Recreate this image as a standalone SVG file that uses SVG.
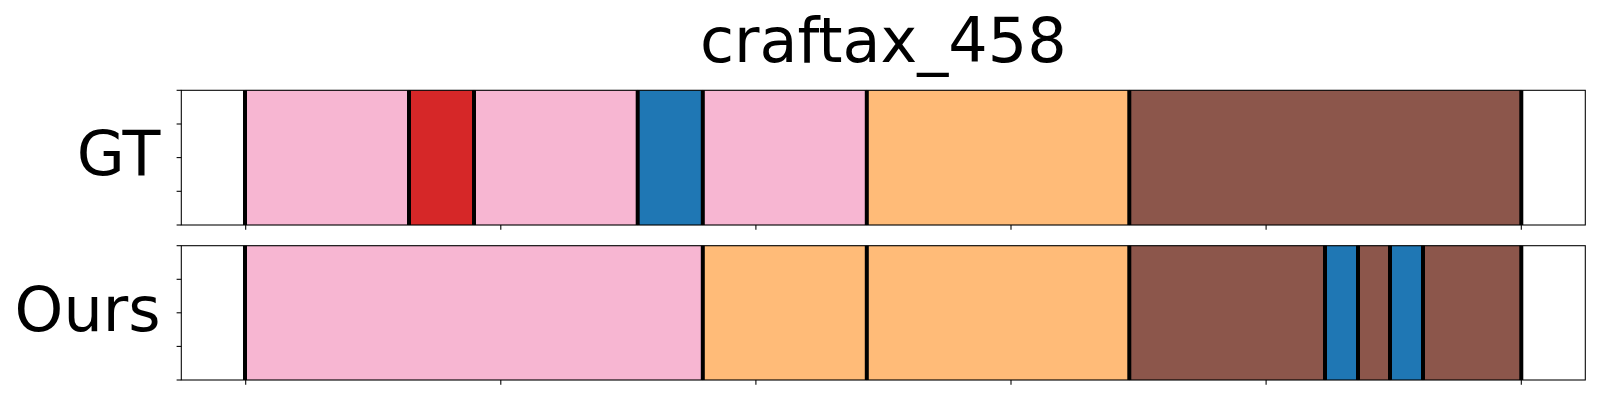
<svg xmlns="http://www.w3.org/2000/svg" width="1600" height="400" viewBox="0 0 1600 400">
<style>
.t{font-family:"DejaVu Sans","Liberation Sans",sans-serif;font-size:62px;fill:#000}
.pk{fill:#f7b6d2}.rd{fill:#d62728}.bl{fill:#1f77b4}.or{fill:#ffbb78}.br{fill:#8c564b}
.seg{stroke:#000;stroke-opacity:0.12;stroke-width:1}
.b{stroke:#000;stroke-width:4}
.sp{fill:none;stroke:#000;stroke-width:1.07}
.tk{stroke:#000;stroke-width:1.07}
</style>
<rect width="1600" height="400" fill="#fff"/>
<text class="t" x="883.3" y="61.7" text-anchor="middle">craftax_458</text>

<g id="gt">
<text class="t" x="160.5" y="175" text-anchor="end">GT</text>
<g id="gt-segments">
<rect class="pk seg" x="245.7" y="90.3" width="163.3" height="134.7"/>
<rect class="rd seg" x="409" y="90.3" width="65" height="134.7"/>
<rect class="pk seg" x="474" y="90.3" width="163.7" height="134.7"/>
<rect class="bl seg" x="637.7" y="90.3" width="65.1" height="134.7"/>
<rect class="pk seg" x="702.8" y="90.3" width="164" height="134.7"/>
<rect class="or seg" x="866.8" y="90.3" width="262.5" height="134.7"/>
<rect class="br seg" x="1129.3" y="90.3" width="392" height="134.7"/>
</g>
<g id="gt-bounds" class="b">
<line x1="245" y1="90.3" x2="245" y2="225"/>
<line x1="409" y1="90.3" x2="409" y2="225"/>
<line x1="474" y1="90.3" x2="474" y2="225"/>
<line x1="637.7" y1="90.3" x2="637.7" y2="225"/>
<line x1="702.8" y1="90.3" x2="702.8" y2="225"/>
<line x1="866.8" y1="90.3" x2="866.8" y2="225"/>
<line x1="1129.3" y1="90.3" x2="1129.3" y2="225"/>
<line x1="1521.3" y1="90.3" x2="1521.3" y2="225"/>
</g>
<rect class="sp" x="181.3" y="90.3" width="1404" height="134.7"/>
<g class="tk">
<line x1="176.6" y1="90.3" x2="181.3" y2="90.3"/>
<line x1="176.6" y1="124" x2="181.3" y2="124"/>
<line x1="176.6" y1="157.6" x2="181.3" y2="157.6"/>
<line x1="176.6" y1="191.3" x2="181.3" y2="191.3"/>
<line x1="176.6" y1="225" x2="181.3" y2="225"/>
<line x1="245.7" y1="225" x2="245.7" y2="229.7"/>
<line x1="500.8" y1="225" x2="500.8" y2="229.7"/>
<line x1="755.9" y1="225" x2="755.9" y2="229.7"/>
<line x1="1011" y1="225" x2="1011" y2="229.7"/>
<line x1="1266.1" y1="225" x2="1266.1" y2="229.7"/>
<line x1="1521.3" y1="225" x2="1521.3" y2="229.7"/>
</g>
</g>

<g id="ours">
<text class="t" x="160.5" y="330.7" text-anchor="end">Ours</text>
<g id="ours-segments">
<rect class="pk seg" x="245.7" y="245.7" width="457.1" height="134.3"/>
<rect class="or seg" x="702.8" y="245.7" width="164" height="134.3"/>
<rect class="or seg" x="866.8" y="245.7" width="262.5" height="134.3"/>
<rect class="br seg" x="1129.3" y="245.7" width="195.7" height="134.3"/>
<rect class="bl seg" x="1325" y="245.7" width="33" height="134.3"/>
<rect class="br seg" x="1358" y="245.7" width="32" height="134.3"/>
<rect class="bl seg" x="1390" y="245.7" width="33" height="134.3"/>
<rect class="br seg" x="1423" y="245.7" width="98.3" height="134.3"/>
</g>
<g id="ours-bounds" class="b">
<line x1="245" y1="245.7" x2="245" y2="380"/>
<line x1="702.8" y1="245.7" x2="702.8" y2="380"/>
<line x1="866.8" y1="245.7" x2="866.8" y2="380"/>
<line x1="1129.3" y1="245.7" x2="1129.3" y2="380"/>
<line x1="1325" y1="245.7" x2="1325" y2="380"/>
<line x1="1358" y1="245.7" x2="1358" y2="380"/>
<line x1="1390" y1="245.7" x2="1390" y2="380"/>
<line x1="1423" y1="245.7" x2="1423" y2="380"/>
<line x1="1521.3" y1="245.7" x2="1521.3" y2="380"/>
</g>
<rect class="sp" x="181.3" y="245.7" width="1404" height="134.3"/>
<g class="tk">
<line x1="176.6" y1="245.7" x2="181.3" y2="245.7"/>
<line x1="176.6" y1="279.3" x2="181.3" y2="279.3"/>
<line x1="176.6" y1="312.8" x2="181.3" y2="312.8"/>
<line x1="176.6" y1="346.4" x2="181.3" y2="346.4"/>
<line x1="176.6" y1="380" x2="181.3" y2="380"/>
<line x1="245.7" y1="380" x2="245.7" y2="384.7"/>
<line x1="500.8" y1="380" x2="500.8" y2="384.7"/>
<line x1="755.9" y1="380" x2="755.9" y2="384.7"/>
<line x1="1011" y1="380" x2="1011" y2="384.7"/>
<line x1="1266.1" y1="380" x2="1266.1" y2="384.7"/>
<line x1="1521.3" y1="380" x2="1521.3" y2="384.7"/>
</g>
</g>
</svg>
